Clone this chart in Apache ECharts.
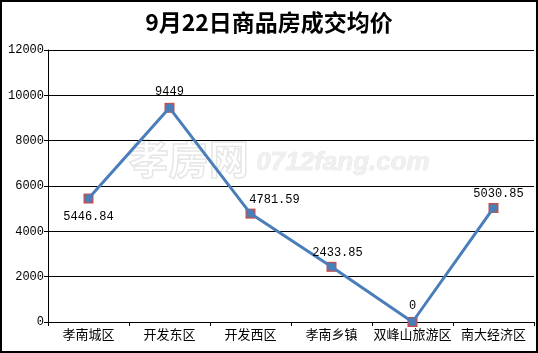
<!DOCTYPE html>
<html>
<head>
	<meta charset="utf-8">
	<title>9月22日商品房成交均价</title>
	<style type="text/css">
		html,body{
			margin: 0;
			padding: 0;
			background: #fff;
		}
		#main{
			width: 538px;
			height: 353px;
		}
	</style>
</head>
<body>
<div id="main"></div>
<script src="https://cdn.jsdelivr.net/npm/echarts@6/dist/echarts.min.js"></script>
<script>
    // 区域
    var areas = ['孝南城区', '开发东区', '开发西区', '孝南乡镇', '双峰山旅游区', '南大经济区'];
    // 均价
    var prices = [5446.84, 9449, 4781.59, 2433.85, 0, 5030.85];
    // 标签位置
    var labelPos = ['bottom', 'top', 'top', 'top', 'top', 'top'];
    var labelOffset = [[0, 2], [0, 0], [24, 2], [6, 2], [0, 0], [5, 2]];

    var lineData = [];
    for (var i = 0; i < prices.length; i++) {
        lineData.push({
            value: prices[i],
            label: {position: labelPos[i], offset: labelOffset[i]}
        });
    }

    var myChart = echarts.init(document.getElementById('main'));
    var txtFont = '"Noto Sans CJK SC", sans-serif';
    var option = {
        backgroundColor: '#fff',
        animation: false,
        title: {
            text: '9月22日商品房成交均价',
            left: 'center',
            top: 6,
            textStyle: {
                fontFamily: txtFont,
                fontSize: 23,
                fontWeight: 'bold',
                color: '#000'
            }
        },
        graphic: [
            {
                type: 'rect',
                shape: {x: 1, y: 1, width: 536, height: 351},
                style: {fill: 'none', stroke: '#000', lineWidth: 2},
                z: 100
            },
            {
                type: 'text',
                left: 128,
                top: 138,
                style: {
                    text: '孝房网',
                    fill: 'none',
                    stroke: '#e6e6e6',
                    lineWidth: 1.5,
                    font: 'bold 40px "Noto Sans CJK SC"'
                },
                z: 0
            },
            {
                type: 'text',
                left: 256,
                top: 150,
                style: {
                    text: '0712fang.com',
                    fill: '#f0f0f0',
                    stroke: '#dedede',
                    lineWidth: 0.6,
                    font: 'bold italic 26px "Liberation Sans"'
                },
                z: 0
            }
        ],
        grid: {
            left: 48,
            right: 4,
            top: 50,
            bottom: 31
        },
        xAxis: {
            type: 'category',
            data: areas,
            boundaryGap: true,
            axisLine: {lineStyle: {color: '#000', width: 1}},
            axisTick: {show: true, length: 4, lineStyle: {color: '#000'}},
            axisLabel: {
                color: '#000',
                fontFamily: txtFont,
                fontSize: 13,
                margin: 6,
                interval: 0
            }
        },
        yAxis: {
            type: 'value',
            min: 0,
            max: 12000,
            interval: 2000,
            axisLine: {show: true, lineStyle: {color: '#000', width: 1}},
            axisTick: {show: true, length: 4, lineStyle: {color: '#000'}},
            axisLabel: {
                color: '#000',
                fontFamily: '"Liberation Mono", monospace',
                fontSize: 12,
                margin: 4,
                formatter: function (v) { return String(v); }
            },
            splitLine: {lineStyle: {color: '#000', width: 1}}
        },
        series: [
            {
                // 红色方块
                type: 'line',
                data: prices,
                symbol: 'rect',
                symbolSize: 10,
                showAllSymbol: true,
                lineStyle: {width: 0, opacity: 0},
                itemStyle: {color: '#c0504d'},
                z: 3
            },
            {
                type: 'line',
                data: lineData,
                symbol: 'circle',
                symbolSize: 8,
                showAllSymbol: true,
                lineStyle: {color: '#4a7ebb', width: 3},
                itemStyle: {color: '#4a7ebb'},
                label: {
                    show: true,
                    color: '#000',
                    fontFamily: '"Liberation Mono", monospace',
                    fontSize: 12,
                    distance: 6
                },
                z: 4
            }
        ]
    };
    myChart.setOption(option);
</script>
</body>
</html>
